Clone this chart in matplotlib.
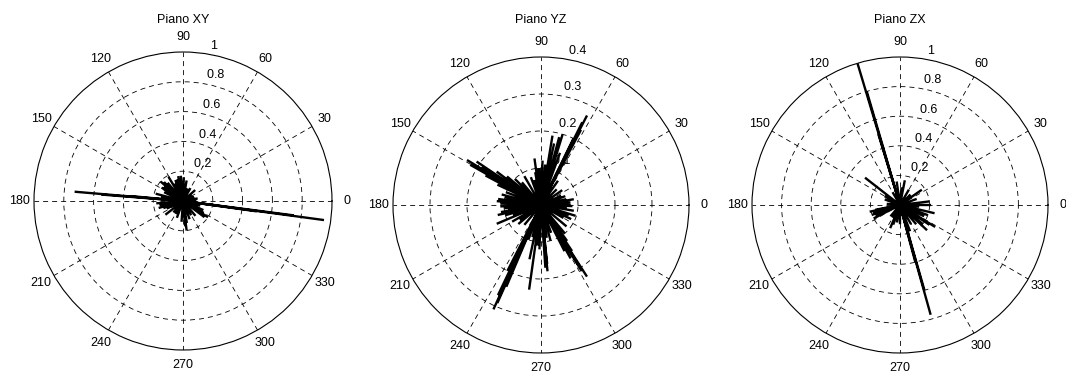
import numpy as np
import matplotlib
matplotlib.use('Agg')
import matplotlib.pyplot as plt

plt.rcParams['font.family'] = ['Liberation Sans', 'DejaVu Sans']
plt.rcParams['font.size'] = 9
plt.rcParams['lines.scale_dashes'] = False

titles = ['Piano XY', 'Piano YZ', 'Piano ZX']
theta_labels = np.arange(0, 360, 30)

# piano XY: angle (deg) and magnitude of every ray
xy_ang = [175.1, 175.5, 174.6, 352.3, 352.6, 352.0, 139, 121, 101, 95, 80, 42, 2,
          336, 327, 277, 266, 218, 196, 165, 148, 60, 20, 250, 230, 300, 310, 185,
          190, 110, 130, 155, 70, 30, 10, 345, 290, 240, 135, 143, 170, 200, 205,
          275, 280, 323, 330, 105, 88, 115]
xy_mag = [0.73, 0.55, 0.35, 0.955, 0.75, 0.5, 0.2, 0.19, 0.17, 0.17, 0.14, 0.11, 0.09,
          0.15, 0.2, 0.2, 0.14, 0.15, 0.17, 0.19, 0.17, 0.1, 0.08, 0.12, 0.1, 0.11, 0.13, 0.18,
          0.16, 0.15, 0.16, 0.14, 0.09, 0.07, 0.1, 0.12, 0.13, 0.1, 0.18, 0.16, 0.15, 0.14, 0.12,
          0.17, 0.15, 0.18, 0.16, 0.15, 0.16, 0.13]

# piano YZ
yz_ang = [62.8, 63.5, 62.0, 64, 73, 75, 80.6, 78, 70, 98, 95, 88, 110, 120,
          148.7, 150.4, 146, 147, 152, 143, 140, 155, 160, 165,
          172, 178, 185, 190, 196, 203, 210, 220, 230,
          245.5, 246, 244.5, 247, 243, 262, 258, 268,
          275.6, 274, 276, 285,
          302.7, 301.6, 302, 299, 304, 297, 306, 310, 320,
          342.6, 358, 350, 5, 13, 25, 35, 45, 55,
          100, 105, 130, 135, 168, 175, 182, 188, 193, 200, 215, 250, 255, 265,
          280, 290, 330, 335, 340, 353, 0, 10, 20, 84, 92]
yz_mag = [0.272, 0.25, 0.23, 0.2, 0.2, 0.19, 0.19, 0.17, 0.15, 0.127, 0.1, 0.12, 0.08, 0.09,
          0.234, 0.22, 0.21, 0.19, 0.17, 0.15, 0.12, 0.13, 0.1, 0.11,
          0.117, 0.11, 0.1, 0.11, 0.1, 0.13, 0.09, 0.08, 0.07,
          0.31, 0.29, 0.27, 0.24, 0.2, 0.231, 0.15, 0.12,
          0.18, 0.17, 0.16, 0.1,
          0.23, 0.21, 0.19, 0.165, 0.15, 0.14, 0.12, 0.1, 0.09,
          0.098, 0.085, 0.09, 0.08, 0.07, 0.06, 0.07, 0.06, 0.08,
          0.09, 0.07, 0.08, 0.1, 0.1, 0.12, 0.11, 0.09, 0.12, 0.08, 0.07, 0.1, 0.09, 0.11,
          0.09, 0.08, 0.07, 0.09, 0.08, 0.07, 0.08, 0.09, 0.07, 0.11, 0.1]

# piano ZX
zx_ang = [106.7, 106.3, 107, 285.6, 286, 285,
          142, 199.4, 192.5, 191, 207, 346.6, 0, 7, 328, 326, 317, 35, 79, 98,
          247, 251, 291, 320, 335, 120, 160, 230, 270, 60, 20, 150, 175, 300,
          195, 203, 340, 310, 85, 45, 260, 240, 355]
zx_mag = [1.0, 0.8, 0.5, 0.77, 0.6, 0.4,
          0.3, 0.2, 0.21, 0.17, 0.2, 0.24, 0.21, 0.2, 0.28, 0.24, 0.25, 0.18, 0.17, 0.16,
          0.17, 0.14, 0.19, 0.2, 0.18, 0.1, 0.11, 0.1, 0.13, 0.12, 0.12, 0.12, 0.09, 0.15,
          0.19, 0.18, 0.2, 0.17, 0.12, 0.1, 0.12, 0.1, 0.13]

panels = [
    (titles[0], xy_ang, xy_mag, 1.0, 0.2, 183, 201, 149),
    (titles[1], yz_ang, yz_mag, 0.4, 0.1, 541, 205, 148),
    (titles[2], zx_ang, zx_mag, 1.0, 0.2, 900, 205, 148),
]

W, H = 1066, 374
fig = plt.figure(figsize=(W / 100, H / 100), dpi=100)

for title, ang, mag, rmax, step, cx, cy, rad in panels:
    rect = [(cx - rad) / W, (H - cy - rad) / H, 2 * rad / W, 2 * rad / H]
    ax = fig.add_axes(rect, projection='polar')
    ax.set_rlim(0, rmax)
    ax.set_thetagrids(theta_labels, labels=[''] * len(theta_labels))
    rings = np.arange(step, rmax - 1e-9, step)
    ax.set_rgrids(rings, labels=[''] * len(rings))
    ax.grid(True, color='k', lw=0.6, linestyle=(0, (3.6, 2.9)))
    ax.spines['polar'].set_linewidth(0.8)

    th = np.deg2rad(np.array(ang, dtype=float))
    m = np.array(mag, dtype=float)
    nan = np.full_like(th, np.nan)
    t = np.column_stack([th, th, nan]).ravel()
    r = np.column_stack([np.zeros_like(m), m, nan]).ravel()
    ax.plot(t, r, color='k', lw=1.7, solid_capstyle='butt')

    for a in theta_labels:
        ax.text(np.deg2rad(a), 1.1 * rmax, str(a), ha='center', va='center', clip_on=False)
    for rr in np.arange(step, rmax + 1e-9, step):
        ax.text(np.deg2rad(82), rr + step / 20, '  %g' % round(rr, 2),
                ha='left', va='bottom', clip_on=False)

    fig.text(cx / W, 1 - 20 / H, title, ha='center', va='center')

fig.savefig('out.png', dpi=100)
